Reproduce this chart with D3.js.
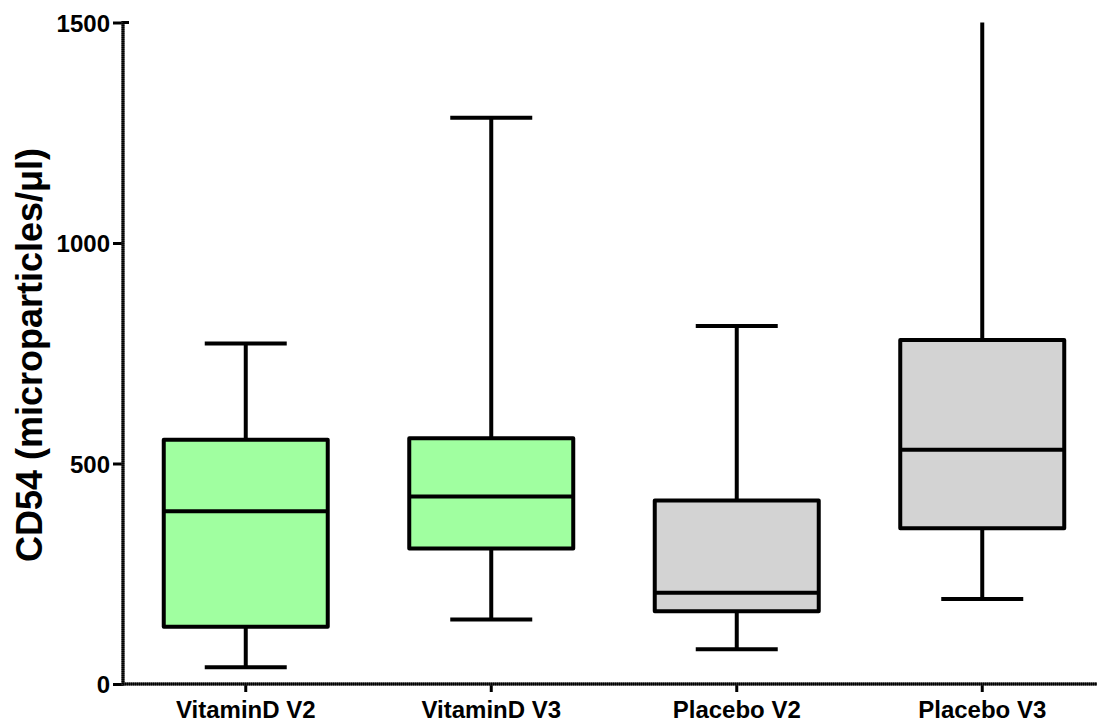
<!DOCTYPE html>
<html>
<head>
<meta charset="utf-8">
<script src="https://cdn.jsdelivr.net/npm/d3@7"></script>
<style>
  html, body { margin: 0; padding: 0; background: #fff; }
  svg { display: block; }
  text { font-family: "Liberation Sans", Arial, sans-serif; font-weight: bold; fill: #000; }
</style>
</head>
<body>
<svg id="chart" width="1097" height="724"></svg>
<script>
// Groups and five-number summaries (min, Q1, median, Q3, max) of CD54 microparticles/µl
const categories = ["VitaminD V2", "VitaminD V3", "Placebo V2", "Placebo V3"];
const mins    = [38, 146, 79, 193];
const q1s     = [130, 307, 165, 353];
const medians = [392, 425, 207, 531];
const q3s     = [554, 557, 416, 780];
const maxs    = [772, 1284, 812, 1650];
const fills   = ["#a0ffa0", "#a0ffa0", "#d3d3d3", "#d3d3d3"];
const yTicks  = [0, 500, 1000, 1500];

const svg = d3.select("#chart");
const plotLeft = 123, plotRight = 1105, plotTop = 22.5, plotBottom = 684;

const x = d3.scaleBand().domain(categories).range([plotLeft, plotRight]);
const y = d3.scaleLinear().domain([0, 1500]).range([plotBottom, plotTop]);

svg.append("defs").append("clipPath").attr("id", "plot")
  .append("rect").attr("x", plotLeft).attr("y", y(1500))
  .attr("width", plotRight - plotLeft).attr("height", plotBottom - y(1500));

const data = categories.map((c, i) => ({
  c, min: mins[i], q1: q1s[i], med: medians[i], q3: q3s[i], max: maxs[i], fill: fills[i]
}));

const boxW = x.bandwidth() * 0.668;
const capW = x.bandwidth() * 0.334;
const g = svg.append("g").attr("clip-path", "url(#plot)");

const box = g.selectAll("g.box").data(data).join("g").attr("class", "box")
  .attr("transform", d => `translate(${x(d.c) + x.bandwidth() / 2},0)`);

// whiskers
box.append("line").attr("x1", 0).attr("x2", 0)
  .attr("y1", d => y(d.q3)).attr("y2", d => y(d.max))
  .attr("stroke", "#000").attr("stroke-width", 4);
box.append("line").attr("x1", 0).attr("x2", 0)
  .attr("y1", d => y(d.q1)).attr("y2", d => y(d.min))
  .attr("stroke", "#000").attr("stroke-width", 4);
// caps
box.filter(d => d.max <= 1500).append("line")
  .attr("x1", -capW / 2).attr("x2", capW / 2)
  .attr("y1", d => y(d.max)).attr("y2", d => y(d.max))
  .attr("stroke", "#000").attr("stroke-width", 4);
box.append("line")
  .attr("x1", -capW / 2).attr("x2", capW / 2)
  .attr("y1", d => y(d.min)).attr("y2", d => y(d.min))
  .attr("stroke", "#000").attr("stroke-width", 4);
// boxes
box.append("rect")
  .attr("x", -boxW / 2).attr("width", boxW)
  .attr("y", d => y(d.q3)).attr("height", d => y(d.q1) - y(d.q3))
  .attr("fill", d => d.fill).attr("stroke", "#000").attr("stroke-width", 4)
  .attr("stroke-linejoin", "round");
// medians
box.append("line")
  .attr("x1", -boxW / 2).attr("x2", boxW / 2)
  .attr("y1", d => y(d.med)).attr("y2", d => y(d.med))
  .attr("stroke", "#000").attr("stroke-width", 4);

// Y axis
const yAxis = svg.append("g").attr("transform", `translate(${plotLeft},0)`)
  .call(d3.axisLeft(y).tickValues(yTicks).tickSize(10).tickPadding(3).tickFormat(d3.format("d")));
yAxis.select(".domain").remove();
yAxis.attr("font-size", null).attr("font-family", null);
yAxis.selectAll(".tick line").attr("stroke", "#000").attr("stroke-width", 3);
yAxis.selectAll(".tick text").style("font-size", "24px").attr("dy", "0.36em");
svg.append("line").attr("x1", plotLeft).attr("x2", plotLeft).attr("y1", y(1500) - 1.5).attr("y2", plotBottom + 1.5)
  .attr("stroke", "#444").attr("stroke-width", 3);
svg.append("line").attr("x1", plotLeft).attr("x2", plotLeft).attr("y1", y(1500) - 1.5).attr("y2", plotBottom + 1.5)
  .attr("stroke", "#000").attr("stroke-width", 3).attr("stroke-dasharray", "1.4,0.6");
svg.append("line").attr("x1", plotLeft).attr("x2", plotLeft + 6).attr("y1", y(1500)).attr("y2", y(1500))
  .attr("stroke", "#000").attr("stroke-width", 3);

// X axis
const xAxis = svg.append("g").attr("transform", `translate(0,${plotBottom})`)
  .call(d3.axisBottom(x).tickSize(8).tickPadding(9));
xAxis.select(".domain").remove();
xAxis.attr("font-size", null).attr("font-family", null);
xAxis.selectAll(".tick line").attr("stroke", "#000").attr("stroke-width", 3);
xAxis.selectAll(".tick text").style("font-size", "24px").attr("dy", "0.71em");
svg.append("line").attr("x1", plotLeft).attr("x2", plotRight).attr("y1", plotBottom).attr("y2", plotBottom)
  .attr("stroke", "#444").attr("stroke-width", 3);
svg.append("line").attr("x1", plotLeft).attr("x2", plotRight).attr("y1", plotBottom).attr("y2", plotBottom)
  .attr("stroke", "#000").attr("stroke-width", 3).attr("stroke-dasharray", "1.4,0.6");

// Y axis title
svg.append("text")
  .attr("transform", `translate(42,355) rotate(-90)`)
  .attr("text-anchor", "middle")
  .style("font-size", "36px")
  .text("CD54 (microparticles/μl)");
</script>
</body>
</html>
